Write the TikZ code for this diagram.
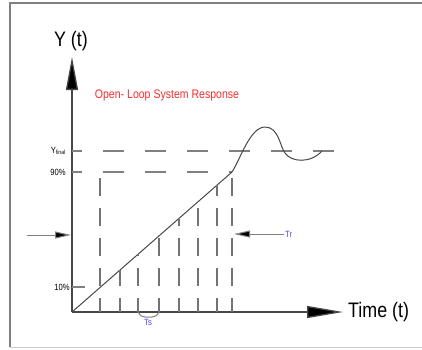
\documentclass[tikz,border=0pt]{standalone}
\usepackage{fontspec}
\setmainfont[FakeStretch=0.85]{Liberation Sans}
\usetikzlibrary{arrows.meta}
\definecolor{labelred}{RGB}{245,45,45}
\definecolor{labelblue}{RGB}{70,70,250}
\definecolor{linegray}{RGB}{70,70,70}
\begin{document}
\begin{tikzpicture}[x=1pt,y=-1pt,
  axis/.style={draw=linegray,line width=1.3pt},
  level/.style={draw=gray,line width=1.2pt,dash pattern=on 21pt off 21pt,dash phase=11pt},
  hatch/.style={draw=gray!90!black,line width=1.1pt,dash pattern=on 18pt off 12pt,dash phase=4pt},
  marker/.style={draw=gray,line width=1pt,-{Triangle[length=16pt,width=7pt,fill=black]}},
  small/.style={font=\fontsize{9}{10}\selectfont,inner sep=1pt}]

\useasboundingbox (0,0) rectangle (422,349);

% frame
\draw[gray,line width=1.6pt] (423,3) -- (10,3) -- (10,347);
\draw[gray!40,line width=1pt] (10,347) -- (423,347);

% axes
\coordinate (O) at (72,312);
\coordinate (yTop) at (72,57);
\coordinate (xEnd) at (343,312);
\draw[axis,-{Triangle[length=33pt,width=12pt,fill=black]}] (O) -- (yTop);
\draw[axis,-{Triangle[length=36pt,width=12pt,fill=black]}] (O) -- (xEnd);

\node (yLabel) at (71,41) {\fontsize{21}{24}\selectfont Y (t)};
\node[anchor=west,inner sep=0pt] (xLabel) at (348,312) {\fontsize{21}{24}\selectfont Time (t)};
\node[labelred,inner sep=0pt] (title) at (167,95) {\fontsize{12.4}{14}\selectfont Open- Loop System Response};

% levels
\coordinate (Yf0) at (72,151);
\coordinate (Yf1) at (343,151);
\coordinate (N0) at (72,172);
\coordinate (P90) at (232,172);
\coordinate (T0) at (72,287);
\coordinate (P10) at (100,287);
\draw[level] (Yf0) -- (Yf1);
\draw[level] (N0) -- (P90);
\draw[level,dash phase=8pt] (T0) -- (P10);

\node[small,anchor=east] (yfLabel) at (67,151) {Y\textsubscript{final}};
\node[small,anchor=east] (nLabel) at (67,172) {90\%};
\node[small,anchor=east] (tLabel) at (71,287) {10\%};

% ramp and overshoot
\draw[linegray,line width=1pt] (O) -- (P90)
  .. controls (240,160) and (250,127) .. (265,127)
  .. controls (279,127) and (280,147) .. (285,153)
  .. controls (291,162) and (310,164) .. (322,151);

% rise time lines
\coordinate (A0) at (100,312);
\coordinate (A1) at (100,172);
\coordinate (B0) at (232,312);
\draw[hatch] (A0) -- (A1);
\draw[hatch] (B0) -- (P90);
\foreach \x in {120,138,159,179,198,217}
{
  \coordinate (h0-\x) at (\x,312);
  \coordinate (h1-\x) at (\x,{312-0.875*(\x-72)});
  \draw[hatch] (h0-\x) -- (h1-\x);
}

% markers
\coordinate (L0) at (27,235);
\coordinate (L1) at (71,235);
\draw[marker] (L0) -- (L1);
\node[small,labelblue,anchor=west] (trLabel) at (284,234) {Tr};
\coordinate (R1) at (234,234);
\draw[marker] (trLabel.west) -- (R1);

% sampling interval
\coordinate (S0) at (138,312);
\coordinate (S1) at (159,312);
\draw[gray,line width=1pt] (S0) to[out=-70,in=180] (145,317) -- (152,317) to[out=0,in=-110] (S1);
\node[small,labelblue] (tsLabel) at (148,322) {Ts};

\end{tikzpicture}
\end{document}
